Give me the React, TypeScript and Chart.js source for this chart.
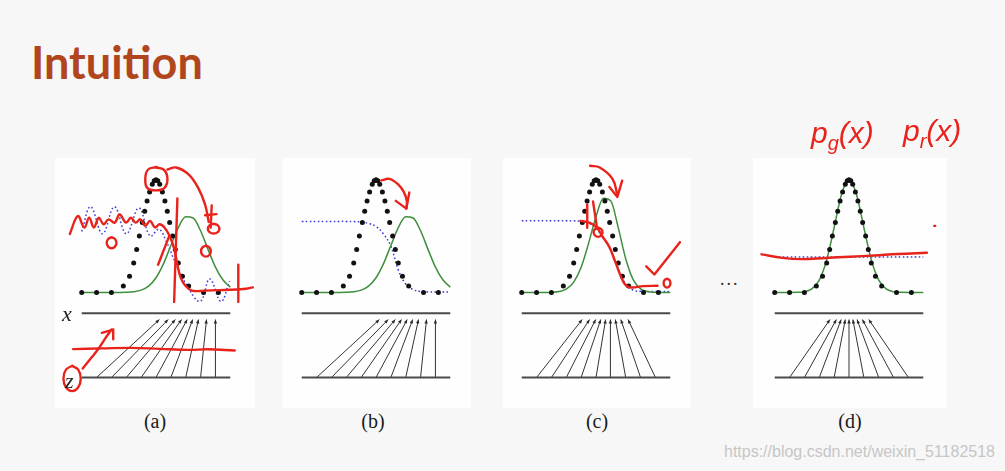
import React, { useEffect, useRef } from "react";
import { Chart, registerables } from "chart.js";
Chart.register(...registerables);

type P = [number, number];

// ---------- data (panel-local units: x along the data axis, y = density) ----------
const DATA_X = [0, 1, 2, 2.8, 3.22, 3.5, 3.7, 3.88, 4.08, 4.24, 4.4, 4.57, 4.75, 4.88, 5.0, 5.12, 5.25, 5.43, 5.6, 5.76, 5.92, 6.12, 6.3, 6.5, 6.78, 7.2, 8.2, 9.2];
const DATA_Y = [0, 0, 0, 0.058, 0.144, 0.26, 0.38, 0.5, 0.62, 0.72, 0.81, 0.89, 0.96, 0.99, 1.0, 0.99, 0.96, 0.89, 0.81, 0.72, 0.62, 0.5, 0.38, 0.26, 0.144, 0.058, 0, 0];

const GRID_X = [0, 0.5, 1, 1.5, 2, 2.5, 3, 3.5, 4, 4.5, 5, 5.5, 6, 6.5, 7, 7.5, 8, 8.5, 9, 9.5, 10];
const GEN_AB = [0, 0, 0, 0, 0, 0.0004, 0.0017, 0.0064, 0.0205, 0.056, 0.13, 0.253, 0.416, 0.575, 0.671, 0.66, 0.547, 0.382, 0.225, 0.112, 0.047];
const GEN_C = [0, 0, 0, 0, 0.0016, 0.0078, 0.03, 0.092, 0.224, 0.435, 0.672, 0.835, 0.81, 0.572, 0.299, 0.114, 0.032, 0.006, 0.001, 0, 0];
const GEN_D = [0, 0, 0, 0.001, 0.0069, 0.0317, 0.11, 0.289, 0.576, 0.871, 1, 0.871, 0.576, 0.289, 0.11, 0.0317, 0.0069, 0.001, 0, 0, 0];

const DISC_A_X = [0, 0.6, 1.4, 2.2, 3.0, 3.85, 4.6, 5.2, 5.7, 6.35, 7.0, 7.97, 8.62, 9.37, 9.95];
const DISC_A_Y = [0.54, 0.76, 0.52, 0.76, 0.52, 0.75, 0.5, 0.56, 0.45, 0.25, 0.08, -0.08, 0.12, -0.08, 0.1];
const DISC_B = [0.63, 0.63, 0.63, 0.63, 0.63, 0.63, 0.63, 0.628, 0.625, 0.612, 0.585, 0.52, 0.41, 0.2, 0.075, 0.025, 0.008, 0.005, 0.005, 0.005, 0.005];
const DISC_C = [0.635, 0.635, 0.635, 0.635, 0.635, 0.635, 0.635, 0.635, 0.63, 0.615, 0.57, 0.48, 0.37, 0.21, 0.075, 0.02, 0.01, 0.008, 0.008, 0.008, 0.008];
const DISC_D = [0.315, 0.315, 0.315, 0.315, 0.315, 0.315, 0.315, 0.315, 0.315, 0.315, 0.315, 0.315, 0.315, 0.315, 0.315, 0.315, 0.315, 0.315, 0.315, 0.315, 0.315];

const Z_POS = [1, 2, 3, 4, 5, 6, 7, 8, 9];
const X_MAP_AB = [5.23, 5.82, 6.3, 6.72, 7.1, 7.47, 7.86, 8.4, 9.0];
const X_MAP_C = [4.07, 4.57, 4.98, 5.32, 5.65, 5.97, 6.3, 6.67, 7.16];
const X_MAP_D = [3.72, 4.15, 4.47, 4.75, 5.0, 5.26, 5.54, 5.9, 6.33];
const LINE_SPAN = [0, 10];
const X_LINE_LEVEL = -0.185;
const Z_LINE_LEVEL = -0.754;
const ARROW_TIP_LEVEL = -0.24;

// ---------- handwritten red annotations ----------
const RED_A_SMOOTH: P[][] = [
  [[4.99, 1.108], [5.51, 1.09], [5.77, 1.013], [5.57, 0.927], [4.99, 0.905], [4.41, 0.927], [4.28, 1.013], [4.47, 1.09], [5.06, 1.112]],
  [[5.77, 1.09], [6.35, 1.108], [7.19, 1.047], [7.84, 0.927], [8.3, 0.78], [8.55, 0.625]],
  [[8.88, 0.608], [9.16, 0.595], [9.27, 0.565], [9.16, 0.535], [8.88, 0.522], [8.6, 0.535], [8.49, 0.565], [8.6, 0.595], [8.9, 0.61]],
  [[8.36, 0.414], [8.59, 0.4], [8.69, 0.366], [8.59, 0.332], [8.36, 0.318], [8.13, 0.332], [8.03, 0.366], [8.13, 0.4], [8.38, 0.416]],
  [[2.01, 0.488], [2.24, 0.474], [2.34, 0.44], [2.24, 0.406], [2.01, 0.392], [1.78, 0.406], [1.68, 0.44], [1.78, 0.474], [2.03, 0.49]],
  [[-0.8, 0.519], [-0.26, 0.677], [0.175, 0.576], [0.5, 0.662], [0.82, 0.576], [1.15, 0.662], [1.47, 0.605], [1.8, 0.648], [2.22, 0.619], [2.55, 0.691], [2.98, 0.619], [3.31, 0.662], [3.63, 0.619], [3.95, 0.648], [4.28, 0.59], [4.6, 0.634], [4.93, 0.576], [5.25, 0.605], [5.57, 0.576], [5.9, 0.504], [6.22, 0.39], [6.44, 0.246], [6.66, 0.131], [6.98, 0.059], [7.41, 0.016], [8.28, 0.016], [9.57, 0.022], [10.87, 0.03], [11.52, 0.045]],
  [[-0.58, -0.502], [1.36, -0.496], [3.31, -0.491], [5.25, -0.5], [7.19, -0.509], [8.49, -0.504], [10.3, -0.515]],
  [[0.065, -0.674], [0.58, -0.59], [1.1, -0.504], [1.62, -0.4], [2.01, -0.329]],
  [[-0.648, -0.651], [-0.236, -0.684], [-0.065, -0.763], [-0.236, -0.842], [-0.648, -0.875], [-1.06, -0.842], [-1.23, -0.763], [-1.06, -0.684], [-0.62, -0.65]],
];
const RED_A_SHARP: P[][] = [
  [[8.3, 0.685], [9.07, 0.694]],
  [[8.75, 0.772], [8.68, 0.573]],
  [[6.44, 0.834], [6.22, -0.084]],
  [[5.9, 0.504], [5.14, 0.246]],
  [[10.54, 0.246], [10.54, -0.084]],
  [[1.36, -0.358], [2.12, -0.329], [2.12, -0.415]],
];
const RED_B_SMOOTH: P[][] = [
  [[5.36, 0.993], [5.9, 1.007], [6.44, 0.964], [6.87, 0.892], [7.08, 0.806], [7.04, 0.743]],
];
const RED_B_SHARP: P[][] = [
  [[6.33, 0.812], [7.04, 0.743], [7.24, 0.886]],
];
const RED_C_SMOOTH: P[][] = [
  [[4.6, 1.123], [5.25, 1.108], [6.11, 1.007], [6.44, 0.864]],
  [[3.95, 0.634], [4.6, 0.616], [5.04, 0.576], [5.44, 0.496], [5.9, 0.403], [6.33, 0.26], [6.87, 0.088], [7.3, 0.045], [8.17, 0.056], [9.14, 0.059]],
  [[5.14, 0.573], [5.35, 0.561], [5.44, 0.533], [5.35, 0.505], [5.14, 0.493], [4.93, 0.505], [4.84, 0.533], [4.93, 0.561], [5.16, 0.575]],
  [[9.78, 0.121], [9.94, 0.11], [10.01, 0.082], [9.94, 0.054], [9.78, 0.043], [9.62, 0.054], [9.55, 0.082], [9.62, 0.11], [9.8, 0.122]],
];
const RED_C_SHARP: P[][] = [
  [[5.9, 0.935], [6.44, 0.847], [6.76, 0.991]],
  [[4.41, 0.78], [4.41, 0.573]],
  [[4.8, 0.806], [5.05, 0.59]],
  [[8.38, 0.231], [8.93, 0.159], [10.65, 0.446]],
];
const RED_D_SMOOTH: P[][] = [
  [[-0.89, 0.338], [0.52, 0.306], [1.81, 0.295], [3.43, 0.306], [5.06, 0.317], [6.68, 0.328], [8.3, 0.341], [10.24, 0.352]],
];
const RED_D_SHARP: P[][] = [
  [[10.74, 0.59], [10.8, 0.59]],
];

const LABELS = ["(a)", "(b)", "(c)", "(d)"];

// ---------- styles ----------
const RED = "#e8231b";
const GREEN = "#3f8f3f";
const BLUE = "#3b3bd8";

const arrowHeads = {
  id: "arrowHeads",
  afterDatasetsDraw(chart: any) {
    const ctx = chart.ctx;
    chart.data.datasets.forEach((ds: any, i: number) => {
      if (!ds.isArrow) return;
      const pts = chart.getDatasetMeta(i).data;
      const a = pts[0], b = pts[1];
      const ang = Math.atan2(b.y - a.y, b.x - a.x);
      const L = 4, W = 1.7;
      const c = Math.cos(ang), s = Math.sin(ang);
      ctx.save();
      ctx.fillStyle = "#2a2a2a";
      ctx.beginPath();
      ctx.moveTo(b.x, b.y);
      ctx.lineTo(b.x - L * c - W * s, b.y - L * s + W * c);
      ctx.lineTo(b.x - L * c + W * s, b.y - L * s - W * c);
      ctx.closePath();
      ctx.fill();
      ctx.restore();
    });
  },
};

type PanelProps = {
  left: number;
  gen: number[];
  discX: number[];
  discY: number[];
  map: number[];
  redSmooth: P[][];
  redSharp: P[][];
};

function Panel({ left, gen, discX, discY, map, redSmooth, redSharp }: PanelProps) {
  const ref = useRef<HTMLCanvasElement>(null);
  useEffect(() => {
    if (!ref.current) return;
    const datasets: any[] = [];
    const base = { showLine: true, pointRadius: 0, fill: false, clip: false };
    redSmooth.forEach((s) =>
      datasets.push({ ...base, data: s.map(([x, y]) => ({ x, y })), borderColor: RED, borderWidth: 2.4, tension: 0.4, borderCapStyle: "round", borderJoinStyle: "round" })
    );
    redSharp.forEach((s) =>
      datasets.push({ ...base, data: s.map(([x, y]) => ({ x, y })), borderColor: RED, borderWidth: 2.4, tension: 0, borderCapStyle: "round", borderJoinStyle: "round" })
    );
    datasets.push({
      data: DATA_X.map((x, i) => ({ x, y: DATA_Y[i] })),
      showLine: false,
      pointRadius: 2.5,
      pointBackgroundColor: "#111",
      pointBorderWidth: 0,
      clip: false,
    });
    datasets.push({ ...base, data: GRID_X.map((x, i) => ({ x, y: gen[i] })), borderColor: GREEN, borderWidth: 1.5, cubicInterpolationMode: "monotone" });
    datasets.push({ ...base, data: discX.map((x, i) => ({ x, y: discY[i] })), borderColor: BLUE, borderWidth: 1.5, borderDash: [1.6, 2.4], tension: 0.4 });
    datasets.push({ ...base, data: LINE_SPAN.map((x) => ({ x, y: X_LINE_LEVEL })), borderColor: "#4a4a4a", borderWidth: 2 });
    datasets.push({ ...base, data: LINE_SPAN.map((x) => ({ x, y: Z_LINE_LEVEL })), borderColor: "#4a4a4a", borderWidth: 2 });
    Z_POS.forEach((z, i) =>
      datasets.push({ ...base, isArrow: true, data: [{ x: z, y: Z_LINE_LEVEL }, { x: map[i], y: ARROW_TIP_LEVEL }], borderColor: "#333", borderWidth: 1 })
    );
    const chart = new Chart(ref.current, {
      type: "scatter",
      data: { datasets },
      options: {
        animation: false,
        responsive: false,
        maintainAspectRatio: false,
        devicePixelRatio: 1,
        events: [],
        layout: { padding: 0 },
        plugins: { legend: { display: false }, tooltip: { enabled: false } },
        scales: {
          x: { type: "linear", min: -2, max: 12, display: false },
          y: { type: "linear", min: -0.918, max: 1.582, display: false },
        },
      },
      plugins: [arrowHeads],
    } as any);
    return () => chart.destroy();
  }, []);
  return <canvas ref={ref} width={216} height={290} style={{ position: "absolute", left, top: 110, width: 216, height: 290 }} />;
}

const PANEL_LEFTS = [48, 268, 488, 741];
const LABEL_CENTERS = [155, 373, 597, 850];

export default function App() {
  const serif = "'Liberation Serif', 'DejaVu Serif', serif";
  return (
    <div style={{ position: "fixed", left: 0, top: 0, width: 1005, height: 471, background: "#f7f7f7", overflow: "hidden" }}>
      {[[55, 200], [283, 188], [503, 188], [753, 194]].map(([l, w], i) => (
        <div key={i} style={{ position: "absolute", left: l, top: 158, width: w, height: 250, background: "#fefefe" }} />
      ))}
      <div style={{ position: "absolute", left: 31, top: 40, fontFamily: "Lato, 'Open Sans', sans-serif", fontWeight: 700, fontSize: 45, lineHeight: "45px", color: "#b1461d" }}>
        Intuition
      </div>
      <Panel left={PANEL_LEFTS[0]} gen={GEN_AB} discX={DISC_A_X} discY={DISC_A_Y} map={X_MAP_AB} redSmooth={RED_A_SMOOTH} redSharp={RED_A_SHARP} />
      <Panel left={PANEL_LEFTS[1]} gen={GEN_AB} discX={GRID_X} discY={DISC_B} map={X_MAP_AB} redSmooth={RED_B_SMOOTH} redSharp={RED_B_SHARP} />
      <Panel left={PANEL_LEFTS[2]} gen={GEN_C} discX={GRID_X} discY={DISC_C} map={X_MAP_C} redSmooth={RED_C_SMOOTH} redSharp={RED_C_SHARP} />
      <Panel left={PANEL_LEFTS[3]} gen={GEN_D} discX={GRID_X} discY={DISC_D} map={X_MAP_D} redSmooth={RED_D_SMOOTH} redSharp={RED_D_SHARP} />
      <div style={{ position: "absolute", left: 62, top: 303, fontFamily: serif, fontStyle: "italic", fontSize: 22, lineHeight: "22px", color: "#222" }}>x</div>
      <div style={{ position: "absolute", left: 65, top: 370, fontFamily: serif, fontStyle: "italic", fontSize: 22, lineHeight: "22px", color: "#222" }}>z</div>
      <div style={{ position: "absolute", left: 720, top: 270, fontFamily: serif, fontSize: 18, lineHeight: "18px", color: "#333", letterSpacing: 2 }}>...</div>
      {LABELS.map((t, i) => (
        <div key={t} style={{ position: "absolute", left: LABEL_CENTERS[i] - 25, width: 50, top: 410, textAlign: "center", fontFamily: serif, fontSize: 20, lineHeight: "22px", color: "#1a1a1a" }}>
          {t}
        </div>
      ))}
      <div style={{ position: "absolute", left: 811, top: 116, fontFamily: "'Liberation Sans', sans-serif", fontStyle: "italic", fontSize: 30, lineHeight: "34px", color: RED }}>
        p<sub style={{ fontSize: 20 }}>g</sub>(x)
      </div>
      <div style={{ position: "absolute", left: 903, top: 114, fontFamily: "'Liberation Sans', sans-serif", fontStyle: "italic", fontSize: 30, lineHeight: "34px", color: RED }}>
        p<sub style={{ fontSize: 20 }}>r</sub>(x)
      </div>
      <div style={{ position: "absolute", right: 10, top: 443, fontFamily: "'Liberation Sans', Arial, sans-serif", fontSize: 16, lineHeight: "18px", color: "#c6c6c6" }}>
        https://blog.csdn.net/weixin_51182518
      </div>
    </div>
  );
}
